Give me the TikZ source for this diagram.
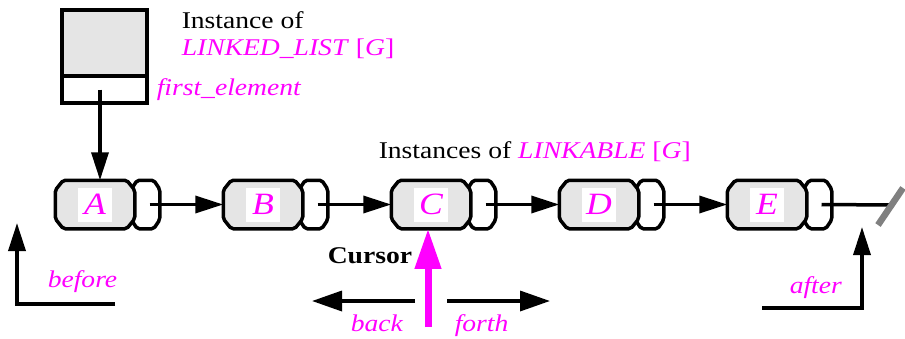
\documentclass[tikz,border=0pt]{standalone}
\usepackage{fontspec}
\setmainfont{Liberation Serif}[FakeStretch=1.15]
\usetikzlibrary{arrows.meta, calc}
\definecolor{mag}{RGB}{255,0,255}
\definecolor{cellgray}{gray}{0.9}
\newcommand{\chamferbox}[4]{%
  \draw[fill=#4, line join=round, rounded corners=2pt]
    ($(#1.north west)+(#2,0)$) -- ($(#1.north east)+(-#2,0)$) -- ($(#1.north east)+(0,#3)$)
    -- ($(#1.south east)+(0,-#3)$) -- ($(#1.south east)+(-#2,0)$) -- ($(#1.south west)+(#2,0)$)
    -- ($(#1.south west)+(0,-#3)$) -- ($(#1.north west)+(0,#3)$) -- cycle;}
\tikzset{
  listbox/.style={draw, fill=cellgray, line width=4pt, minimum width=85pt, minimum height=66pt, inner sep=0pt},
  fieldbox/.style={draw, fill=white, line width=4pt, minimum width=85pt, minimum height=27pt, inner sep=0pt},
  cell/.style={minimum width=76pt, minimum height=45pt, inner sep=0pt},
  celltail/.style={minimum width=25pt, minimum height=45pt, inner sep=0pt},
  letter/.style={fill=white, text=mag, minimum size=34pt, inner sep=0pt, font=\fontsize{31}{33}\selectfont\itshape},
  lbl/.style={anchor=base west, inner sep=0pt},
  maglbl/.style={lbl, text=mag, font=\fontsize{24}{28}\selectfont\itshape},
  cursorarrow/.style={mag, line width=7pt, -{Triangle[length=40pt,width=25pt]}},
  movearrow/.style={line width=3.5pt, -{Triangle[length=30pt,width=20pt]}}
}
\begin{document}
\begin{tikzpicture}[x=1pt, y=-1pt, line width=3.5pt, font=\fontsize{24}{28}\selectfont, >={Triangle[length=28pt,width=17pt]}]
\useasboundingbox (0,0) rectangle (905,338);
\node[listbox] (list) at (104.5,43) {};
\node[fieldbox] (field) at (104.5,89.5) {};
\node[lbl] (inst) at (180,28) {Instance of};
\node[lbl, text=mag] (cls) at (180,55) {\textit{LINKED\_LIST} [\textit{G}]};
\node[maglbl] (fe) at (155,95) {first\_element};
\node[lbl] (insts) at (377,158) {Instances of \textcolor{mag}{\textit{LINKABLE} [\textit{G}]}};
\foreach \l [count=\i from 0] in {A,B,C,D,E} {
  \node[celltail] (\l-tail) at (145.5+168*\i,204.5) {};
  \chamferbox{\l-tail}{6}{9}{white}
  \node[cell] (\l) at (95+168*\i,204.5) {};
  \chamferbox{\l}{8}{10}{cellgray}
  \node[letter] (\l-txt) at (\l) {\l};
}
\draw[->] (field.center -| 100,0) -- (A.north -| 100,0);
\foreach \a/\b in {A/B,B/C,C/D,D/E}
  \draw[->] ($(\a-tail.center)+(4,0)$) -- (\b.west);
\coordinate (void) at (893,205);
\draw ($(E-tail.center)+(4,0)$) -- (void);
\draw[line width=6.5pt, gray] (878,225) -- (903,188);
\coordinate (bf) at (115,304);
\coordinate (bftip) at (17,223);
\draw[->] (bf) -| (bftip);
\node[maglbl] (before) at (46,287) {before};
\coordinate (af) at (762,308);
\coordinate (aftip) at (862,227);
\draw[->] (af) -| (aftip);
\node[maglbl] (after) at (788,293) {after};
\coordinate (cur) at (428,327);
\draw[cursorarrow] (cur) -- (cur |- C.south);
\node[lbl, font=\fontsize{24}{28}\selectfont\bfseries] (cursor) at (326,263) {Cursor};
\coordinate (bk) at (415,301);
\coordinate (bktip) at (312,301);
\coordinate (fw) at (447,301);
\coordinate (fwtip) at (550,301);
\draw[movearrow] (bk) -- (bktip);
\draw[movearrow] (fw) -- (fwtip);
\node[maglbl] (back) at (349,331) {back};
\node[maglbl] (forth) at (453,331) {forth};
\end{tikzpicture}
\end{document}
